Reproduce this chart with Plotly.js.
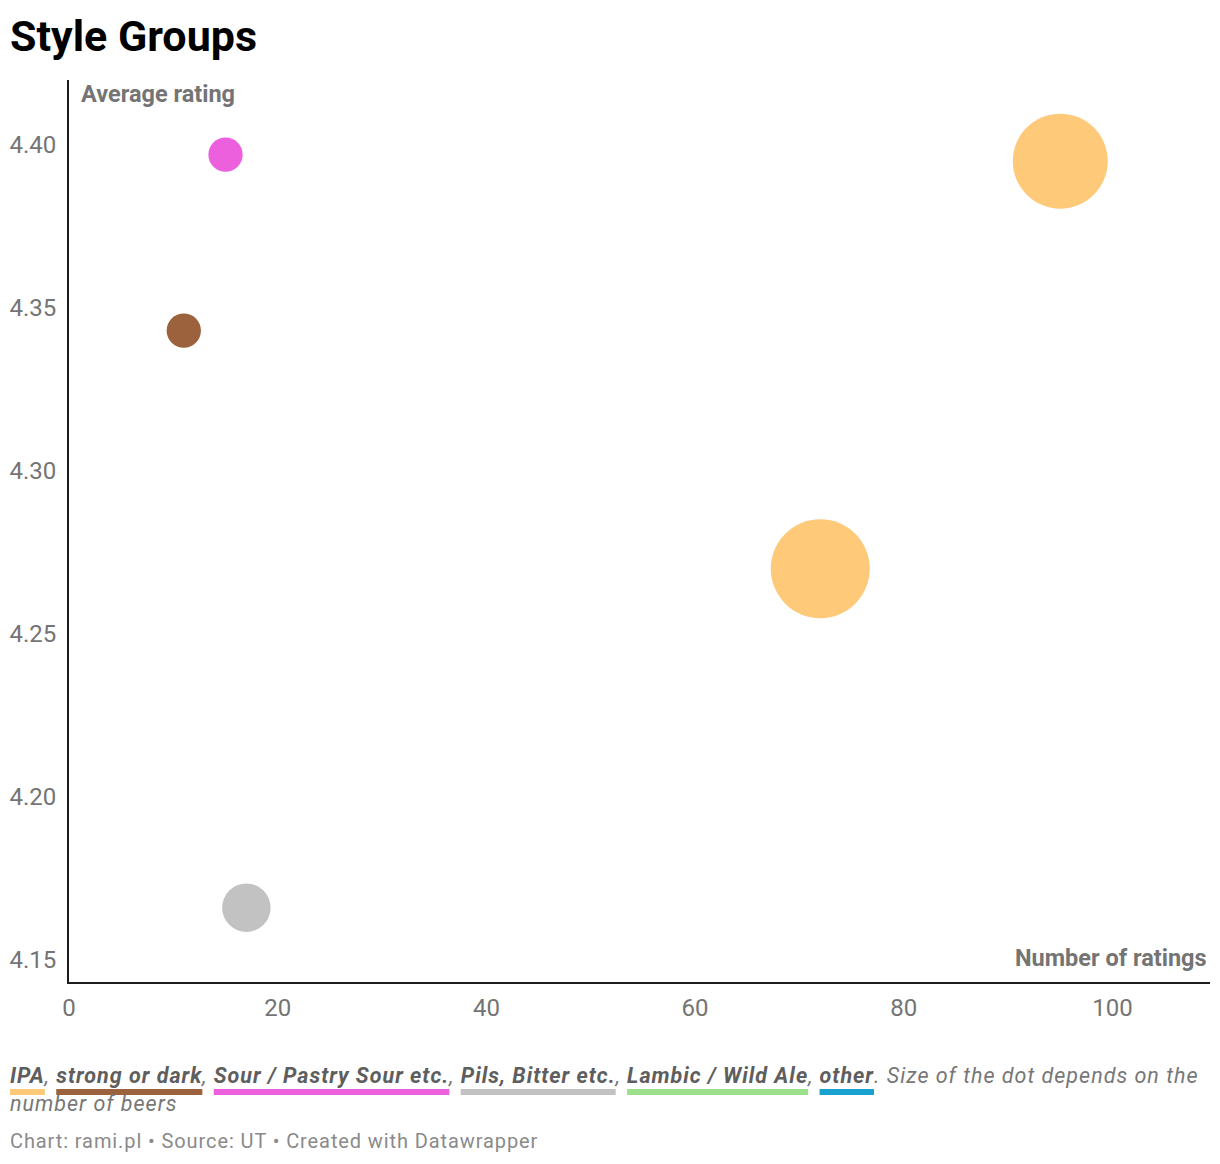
<!DOCTYPE html>
<html>
<head>
<meta charset="utf-8">
<script src="https://cdn.plot.ly/plotly-3.0.1.min.js"></script>
<style>
  body { margin: 0; background: #fff; font-family: Roboto, sans-serif; }
  #wrap { position: relative; width: 1220px; height: 1164px; }
  #graphDiv { position: absolute; left: 0; top: 0; width: 1220px; height: 1164px; }
  #notes { position: absolute; left: 10px; top: 1062px; width: 1210px; white-space: nowrap;
           font-size: 21.5px; letter-spacing: 1px; line-height: 28px; font-style: italic; color: #777; }
  #notes b { color: #5e5e5e; text-decoration-line: underline; text-decoration-thickness: 6px;
             text-underline-offset: 6px; text-decoration-skip-ink: none; }
  #credits { position: absolute; left: 10px; top: 1129px; font-size: 20px; letter-spacing: 0.9px; color: #8a8a8a; }
</style>
</head>
<body>
<div id="wrap">
  <div id="graphDiv"></div>
  <div id="notes"></div>
  <div id="credits">Chart: rami.pl • Source: UT • Created with Datawrapper</div>
</div>
<script>
// html tag
const graphDiv = document.getElementById('graphDiv');

// groups (colour key) ***********************************
const groupNames = ['IPA', 'strong or dark', 'Sour / Pastry Sour etc.', 'Pils, Bitter etc.', 'Lambic / Wild Ale', 'other'];
const groupColors = ['#fec978', '#9b623d', '#ed60dd', '#c2c2c2', '#9ce08b', '#19a2cf'];

// dots *************************************************
const pointGroup = ['IPA', 'IPA', 'strong or dark', 'Sour / Pastry Sour etc.', 'Pils, Bitter etc.'];
const numRatings = [95, 72, 11, 15, 17];
const avgRating = [4.395, 4.270, 4.343, 4.397, 4.166];
const numBeers = [23, 25, 3, 3, 6];

// axis ticks
const yTicks = [4.15, 4.20, 4.25, 4.30, 4.35, 4.40];
const xTicks = [0, 20, 40, 60, 80, 100];

var pointColors = pointGroup.map(function(g){ return groupColors[groupNames.indexOf(g)]; });

var maxDot = 99;  // px diameter of the biggest dot
var maxBeers = Math.max.apply(null, numBeers);

Plotly.newPlot(
  graphDiv,
  [
  {
    x: numRatings,
    y: avgRating,
    text: pointGroup,
    mode: 'markers',
    type: 'scatter',
    hoverinfo: 'none',
    marker: {
      color: pointColors,
      size: numBeers,
      sizemode: 'area',
      sizeref: 2 * maxBeers / (maxDot * maxDot),
      opacity: 1,
      line: { width: 0 }
    }
  }
  ],
  {
    width: 1220,
    height: 1164,
    margin: { l: 69, r: 10, t: 80, b: 182 },
    paper_bgcolor: '#fff',
    plot_bgcolor: '#fff',
    showlegend: false,
    font: { family: 'Roboto, sans-serif', color: '#747474' },
    title: {
      text: '<b>Style Groups</b>',
      font: { size: 43, color: '#000', family: 'Roboto, sans-serif' },
      xref: 'container', x: 10 / 1220, xanchor: 'left',
      yref: 'container', y: 1 - 36 / 1164, yanchor: 'middle'
    },
    xaxis: {
      range: [0, 109.35],
      tickvals: xTicks,
      ticktext: xTicks.map(String),
      showgrid: false,
      zeroline: false,
      showline: true,
      linecolor: '#1c1c1c',
      linewidth: 2,
      ticks: '',
      ticklabelstandoff: 3,
      tickfont: { size: 24, color: '#747474' },
      fixedrange: true
    },
    yaxis: {
      range: [4.1432, 4.4199],
      tickvals: yTicks,
      ticktext: yTicks.map(function(v){ return v.toFixed(2); }),
      showgrid: false,
      zeroline: false,
      showline: true,
      linecolor: '#1c1c1c',
      linewidth: 2,
      ticks: '',
      ticklabelstandoff: 6,
      tickfont: { size: 24, color: '#747474' },
      fixedrange: true
    },
    annotations: [
      {
        text: '<b>Average rating</b>',
        xref: 'paper', yref: 'paper', x: 0, y: 1,
        xshift: 10, yshift: -14,
        xanchor: 'left', yanchor: 'middle',
        showarrow: false,
        font: { size: 23.5, color: '#747474' }
      },
      {
        text: '<b>Number of ratings</b>',
        xref: 'paper', yref: 'paper', x: 1, y: 0,
        xshift: -1, yshift: 24,
        xanchor: 'right', yanchor: 'middle',
        showarrow: false,
        font: { size: 23.5, color: '#747474' }
      }
    ]
  },
  { staticPlot: true, displayModeBar: false }
);

// colour key below the chart
var keyHtml = groupNames.map(function(g, i){
  return '<b style="text-decoration-color:' + groupColors[i] + '">' + g + '</b>';
}).join(', ');
document.getElementById('notes').innerHTML =
  keyHtml + '. Size of the dot depends on the<br>number of beers';
</script>
</body>
</html>
